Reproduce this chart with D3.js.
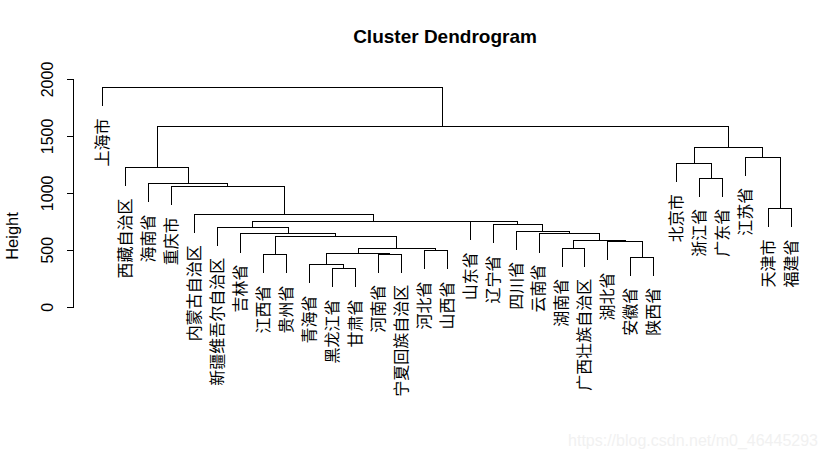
<!DOCTYPE html>
<html><head><meta charset="utf-8">
<script src="https://cdn.jsdelivr.net/npm/d3@7"></script>
<style>
html,body{margin:0;padding:0;background:#fff;}
svg{display:block;}
</style></head>
<body>
<script>
// Leaf labels in dendrogram order
const labels = ["上海市","西藏自治区","海南省","重庆市","内蒙古自治区","新疆维吾尔自治区","吉林省","江西省","贵州省","青海省","黑龙江省","甘肃省","河南省","宁夏回族自治区","河北省","山西省","山东省","辽宁省","四川省","云南省","湖南省","广西壮族自治区","湖北省","安徽省","陕西省","北京市","浙江省","广东省","江苏省","天津市","福建省"];
// hclust-style merges: negative = leaf (1-based), positive = earlier merge (1-based)
const mergeLeft  = [-11, -8, -24, -10, -13, 4, -15, 6, -21, -23, 9, 2, -7, -6, -20, -19, -18, -17, 14, -5, -4, -3, -2, -27, -26, -30, -29, 25, 23, -1];
const mergeRight = [-12, -9, -25, 1, -14, 5, -16, 7, -22, 3, 10, 8, 12, 13, 11, 15, 16, 17, 18, 19, 20, 21, 22, -28, 24, -31, 26, 27, 28, 29];
const mergeHeight = [337, 460, 439, 372, 466, 468, 495, 518, 518, 574, 588, 625, 643, 703, 643, 669, 724, 751, 753, 812, 1058, 1084, 1224, 1133, 1260, 864, 1318, 1405, 1585, 1927];
const yTicks = [0, 500, 1000, 1500, 2000];
const titleText = "Cluster Dendrogram";
const yLabel = "Height";
const watermark = "https://blog.csdn.net/m0_46445293";

const W = 828, H = 459;
const svg = d3.select("body").append("svg").attr("width", W).attr("height", H);

const x = d3.scalePoint().domain(labels).range([102.3, 791.1]);
const y = d3.scaleLinear().domain([0, 2000]).range([306.7, 79]);

const hang = 0.1 * (d3.max(mergeHeight) - d3.min(mergeHeight));

// compute node positions
const nodeX = [], nodeH = mergeHeight;
function childX(c){ return c < 0 ? x(labels[-c-1]) : nodeX[c-1]; }
for (let i = 0; i < mergeHeight.length; i++) {
  nodeX[i] = (childX(mergeLeft[i]) + childX(mergeRight[i])) / 2;
}
const px = v => Math.round(v) + 0.5;

const g = svg.append("g").attr("fill","none").attr("stroke","#000").attr("stroke-width",1).attr("shape-rendering","crispEdges");
const leafEnds = [];
for (let i = 0; i < mergeHeight.length; i++) {
  const h = mergeHeight[i];
  const segs = [mergeLeft[i], mergeRight[i]].map(c => {
    if (c < 0) { const e = h - hang; leafEnds[-c-1] = e; return [childX(c), e]; }
    return [childX(c), nodeH[c-1]];
  });
  const p = d3.path();
  p.moveTo(px(segs[0][0]), px(y(segs[0][1])));
  p.lineTo(px(segs[0][0]), px(y(h)));
  p.lineTo(px(segs[1][0]), px(y(h)));
  p.lineTo(px(segs[1][0]), px(y(segs[1][1])));
  g.append("path").attr("d", p.toString());
}

// leaf labels
svg.append("g").selectAll("text").data(labels).join("text")
  .attr("transform", (d,i) => `translate(${x(d)},${y(leafEnds[i]) + 13}) rotate(-90)`)
  .attr("text-anchor","end").attr("dy","0.37em")
  .attr("font-family","'Noto Sans CJK SC', sans-serif").attr("font-size",16)
  .attr("fill","#000").text(d => d);

// y axis
const axis = d3.axisLeft(y).tickValues(yTicks).tickSize(7).tickFormat(d3.format("d"));
const ax = svg.append("g").attr("transform","translate(73.5,0)").call(axis);
ax.select(".domain").attr("d", `M-7,${px(y(0))}H0V${px(y(2000))}H-7`).attr("stroke","#000").attr("shape-rendering","crispEdges");
ax.selectAll(".tick line").attr("stroke","#000").attr("shape-rendering","crispEdges");
ax.selectAll(".tick text")
  .attr("x", null).attr("dy", null)
  .attr("transform","translate(-21,0) rotate(-90)")
  .attr("text-anchor","middle")
  .attr("font-family","'Liberation Sans', Arial, sans-serif").attr("font-size",16).attr("fill","#000");

// y label
svg.append("text").attr("transform","translate(18,236) rotate(-90)")
  .attr("text-anchor","middle").attr("font-family","'Liberation Sans', Arial, sans-serif")
  .attr("font-size",16.5).attr("fill","#000").text(yLabel);

// title
svg.append("text").attr("x",445).attr("y",43).attr("text-anchor","middle")
  .attr("font-family","'Liberation Sans', Arial, sans-serif").attr("font-weight","bold")
  .attr("font-size",19).attr("fill","#000").text(titleText);

// watermark
svg.append("text").attr("x",818).attr("y",446).attr("text-anchor","end")
  .attr("font-family","'Liberation Sans', Arial, sans-serif")
  .attr("font-size",16).attr("fill","#f1f1f1").text(watermark);
</script>
</body></html>
